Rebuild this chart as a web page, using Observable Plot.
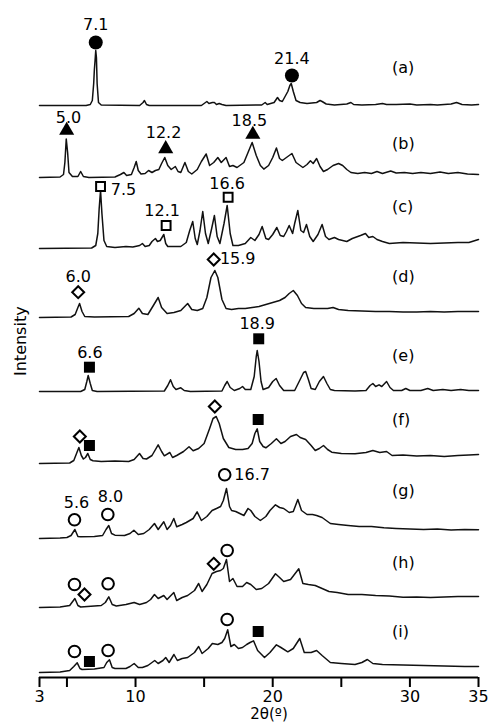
<!DOCTYPE html>
<html>
<head>
<meta charset="utf-8">
<script src="https://cdn.jsdelivr.net/npm/d3@7"></script>
<script src="https://cdn.jsdelivr.net/npm/@observablehq/plot@0.6"></script>
<style>
  html, body { margin: 0; padding: 0; background: #fff; }
  #chart { width: 489px; height: 725px; }
</style>
</head>
<body>
<div id="chart"></div>
<script>
// ---------- DATA (2θ in degrees, intensity in arbitrary units) ----------
const traceNames = ["a","b","c","d","e","f","g","h","i"];
const traceOffsets = [572, 500, 429, 360, 286, 214, 139, 69, 5];

const traceA = [[3,0],[6.4,0],[6.7,1],[6.85,5],[6.95,22],[7.0,36],[7.05,45],[7.1,55],[7.15,48],[7.2,22],[7.3,3],[7.5,0.5],[10.3,0],[10.55,3],[10.65,5],[10.8,1],[11,0],[14.8,0],[15.1,3],[15.2,4],[15.35,2],[15.6,3],[15.75,3],[15.9,1],[16.1,2],[16.3,1],[16.6,0],[19.2,0.5],[19.45,3],[19.6,1],[20.1,3],[20.35,8],[20.5,5],[20.7,4],[20.9,9],[21.1,14],[21.25,20],[21.35,22],[21.5,14],[21.7,5],[22,3],[22.5,2],[23.2,3],[23.45,5],[23.6,4],[23.9,1.5],[24.5,0.5],[25.4,1.5],[25.7,3],[25.9,1],[26.5,0.5],[27.5,1],[28.0,2],[28.3,1],[29,1],[30,1.5],[30.5,0.5],[31.5,1],[32,0.5],[33,1.5],[33.4,3],[33.8,1],[34.5,0.5],[35,1]];

const traceB = [[3,0],[4.5,0.5],[4.75,3],[4.85,15],[4.95,38.5],[5.05,25],[5.15,5],[5.4,1],[5.8,1],[6.0,6],[6.2,1],[6.6,0],[8.5,0.5],[8.9,3],[9.15,5],[9.35,2],[9.7,3],[9.9,10],[10.05,16],[10.2,7],[10.4,3.5],[10.7,4],[10.95,7],[11.2,5],[11.45,7],[11.7,8],[11.9,14],[12.13,20],[12.35,12],[12.6,8],[12.9,11],[13.1,6],[13.3,5],[13.6,15],[13.85,6],[14.1,3.5],[14.5,8],[14.8,16],[15.15,23.5],[15.4,12],[15.7,15],[16.0,20],[16.25,15],[16.6,20],[16.85,11],[17.1,12],[17.4,10],[17.9,15],[18.2,25],[18.5,35],[18.8,22],[19.1,12],[19.35,8.4],[19.7,12],[20.0,20],[20.27,29.6],[20.5,19],[20.7,17],[21.0,20],[21.4,24],[21.7,15],[22.0,12],[22.2,10],[22.5,13],[22.75,16.7],[22.95,14],[23.2,19],[23.45,11],[23.7,6],[24.0,8],[24.4,12],[24.8,14],[25.1,12],[25.4,8],[25.7,5],[26.2,4],[26.7,5],[27.2,4],[27.6,6],[28.0,4],[28.6,6.5],[29.0,4.5],[29.6,5],[30.2,4],[30.8,5],[31.5,4],[32.2,5.5],[32.8,4],[33.5,5],[34.2,3.5],[35,3]];

const traceC = [[3,0],[6.8,0.5],[7.1,3],[7.25,15],[7.35,40],[7.45,58],[7.55,35],[7.7,8],[7.9,2],[8.5,1],[9.3,2],[9.8,1.5],[10.3,3],[10.5,5],[10.7,2],[11.0,3],[11.2,7],[11.45,10],[11.6,7],[11.8,8],[12.06,14],[12.2,5],[12.35,2],[13.3,2],[13.7,6],[13.95,18],[14.17,27],[14.35,10],[14.5,4],[14.7,18],[14.9,37],[15.1,15],[15.3,5],[15.55,20],[15.75,33],[15.95,12],[16.15,5],[16.45,25],[16.68,43],[16.9,15],[17.1,3],[17.5,3],[18.0,5],[18.4,11],[18.7,8],[19.0,14],[19.23,22],[19.5,10],[19.7,9],[20.0,14],[20.3,21],[20.55,13],[20.8,12],[21.0,17],[21.2,23],[21.45,15],[21.6,25],[21.83,38],[22.05,18],[22.25,16],[22.46,24],[22.7,12],[22.95,7],[23.3,14],[23.6,24],[23.85,12],[24.1,9],[24.5,11],[24.8,9],[25.4,7],[25.8,10],[26.4,13],[26.76,15],[27.0,11],[27.3,12],[27.6,9],[28.0,7],[28.5,5],[29.5,6],[30.5,5.5],[31.5,5],[32.5,5.5],[33.5,6],[34.3,6],[35,9]];

const traceD = [[3,0],[5.3,0.5],[5.6,3],[5.8,10],[5.92,14],[6.1,6],[6.3,1],[7,0.5],[9.5,1],[9.9,4],[10.24,9.3],[10.5,4],[10.9,3],[11.3,12],[11.65,20],[11.9,10],[12.3,4],[12.8,5],[13.3,7],[13.8,14],[14.1,8],[14.5,7],[14.9,9],[15.2,20],[15.5,40],[15.78,47],[16.0,40],[16.3,18],[16.6,9],[17.0,8],[17.5,9],[18.0,9],[18.5,10],[19.0,11],[19.5,13],[20.0,15],[20.5,17],[20.9,20],[21.2,24],[21.5,27],[21.8,22],[22.1,14],[22.4,10],[23.0,9],[23.5,9],[24.0,9],[24.4,10],[24.8,8],[25.5,7],[26.5,6.5],[27.5,6],[28.5,6],[29.5,5.5],[30.5,5.5],[31.5,6],[32.5,5.5],[33.5,6],[35,6]];

const traceE = [[3,0],[6.0,0],[6.3,2],[6.45,10],[6.55,16],[6.7,8],[6.85,1],[7.2,0],[12.1,0.5],[12.35,6],[12.55,11.7],[12.75,5],[12.95,2],[13.3,3.7],[13.55,1],[14,0],[16.3,0.5],[16.5,6],[16.68,10],[16.9,4],[17.2,1],[17.6,3],[17.8,5],[18.0,2],[18.4,2],[18.65,15],[18.8,35],[18.87,41],[19.0,30],[19.15,10],[19.3,2],[19.7,4],[20.0,10],[20.25,13],[20.5,6],[20.8,1],[21.6,1],[22.0,12],[22.25,19],[22.4,20],[22.6,12],[22.8,3],[23.1,2],[23.4,10],[23.7,15],[23.95,8],[24.2,2],[24.5,1],[26.0,0.5],[26.8,1],[27.1,6],[27.3,8],[27.5,5],[27.75,6.7],[27.95,5],[28.3,10],[28.55,4],[28.8,1],[29.4,1],[29.7,3],[30.0,1],[30.8,1],[31.3,3],[31.7,1],[32.4,2],[33.0,1],[33.7,2],[34.3,1],[35,1]];

const traceF = [[3,0],[5.2,0.5],[5.5,3],[5.7,10],[5.87,16],[6.05,8],[6.2,4.5],[6.35,6],[6.52,10],[6.7,4],[6.9,2.7],[7.5,2],[8.5,2.5],[9.5,2],[9.9,4],[10.29,10],[10.55,5],[10.8,4.5],[11.2,8],[11.65,18.7],[11.9,12],[12.1,7.7],[12.5,11],[12.7,6],[13.0,8],[13.5,12],[13.9,16.7],[14.2,12.7],[14.6,15],[15.0,20],[15.4,35],[15.65,45],[15.88,47],[16.1,40],[16.4,25],[16.8,16],[17.3,14],[17.8,14],[18.2,15],[18.5,20],[18.7,30],[18.87,34.7],[19.05,22],[19.3,17],[19.5,15.7],[19.9,20],[20.27,24.7],[20.6,20],[20.9,22],[21.3,27],[21.73,29],[22.0,26],[22.4,24],[22.8,18],[23.1,13],[23.4,15],[23.7,18],[24.0,14],[24.3,11.3],[25.0,10],[26.0,9.7],[26.8,11],[27.3,13],[27.8,11],[28.3,12],[28.7,8],[29.5,8.5],[30.5,7.5],[31.5,8],[32.5,7],[33.5,8],[34.3,8.5],[35,9]];

const traceG = [[3,0],[4.5,0.5],[5.0,1],[5.3,3],[5.58,9],[5.8,2],[6.0,1.7],[7.0,2],[7.6,3],[7.85,9],[8.05,13],[8.25,5],[8.5,3.3],[9.2,3],[9.6,5],[9.88,8.3],[10.2,4],[10.6,5],[11.0,9],[11.38,15],[11.65,9],[12.06,16.7],[12.3,9],[12.55,13],[12.79,20],[13.0,11.7],[13.4,14],[13.7,16],[14.2,20],[14.49,26.7],[14.8,18],[15.2,22],[15.58,28],[15.9,30],[16.2,32],[16.4,38],[16.63,50],[16.85,32],[17.0,28],[17.3,27],[17.6,25],[17.9,23],[18.2,30],[18.4,28],[18.7,22],[19.1,18],[19.5,22],[19.8,28],[20.2,33.7],[20.5,31],[20.8,30],[21.2,26],[21.5,27],[21.83,39],[22.1,28],[22.5,24],[22.9,24],[23.2,23],[23.6,21],[24.2,15],[24.8,14],[25.5,13],[26.3,12],[27.2,12],[28.1,10.7],[29.0,10],[30.0,9.5],[31.0,9],[32.0,9.5],[33.0,8.5],[34.0,9],[35,8.7]];

const traceH = [[3,1],[4.5,1.5],[5.2,3],[5.58,10],[5.8,3],[6.0,1.5],[6.5,2],[7.5,3],[7.8,6],[8.05,11.7],[8.3,4],[8.6,2.5],[9.3,4],[9.9,6],[10.3,4],[10.8,6],[11.1,9],[11.38,14],[11.65,10],[12.06,13],[12.3,9],[12.79,16],[13.0,8],[13.4,11],[13.8,13],[14.3,18],[14.6,25],[14.85,17],[15.2,24],[15.58,35],[15.9,37],[16.2,38],[16.4,40],[16.63,49],[16.85,27],[17.1,30],[17.4,22],[17.8,22],[18.1,26],[18.4,24],[18.8,19],[19.2,20],[19.7,25],[20.2,34.7],[20.5,31],[20.8,27],[21.3,29],[21.9,39.7],[22.2,25],[22.6,24],[23.1,23],[23.6,20],[24.1,17],[24.7,16],[25.5,14],[26.5,14],[27.5,13],[28.5,12.5],[29.5,11.3],[30.5,11.5],[31.5,11],[32.5,11.5],[33.5,12],[35,12]];

const traceI = [[3,0],[4.5,0.5],[5.2,2],[5.5,6],[5.75,9.7],[5.95,4],[6.1,3],[7.0,3.5],[7.7,5],[7.9,10],[8.1,12.7],[8.3,5],[8.5,4],[9.3,4],[9.6,6],[9.9,9],[10.2,5],[10.5,5],[10.9,7],[11.4,12],[11.65,9],[12.0,12],[12.2,15],[12.45,10],[12.8,18],[13.05,12],[13.4,14],[13.8,15],[14.3,20],[14.6,26],[14.85,19],[15.3,24],[15.6,29],[16.0,28],[16.3,30],[16.5,34],[16.72,42.7],[16.95,26],[17.2,28],[17.5,24],[17.8,25],[18.1,28],[18.35,30],[18.6,31.7],[18.9,22],[19.4,15],[19.8,20],[20.27,27.7],[20.6,25],[21.1,20.7],[21.5,24],[21.97,34],[22.3,20],[22.8,20],[23.2,22],[23.6,17],[24.2,10],[25.0,9],[26.0,8],[26.5,10],[26.9,13],[27.3,9],[28.0,8],[29.5,7.5],[31.0,7],[32.5,6.5],[34.0,6],[35,6]];

const traces = [traceA, traceB, traceC, traceD, traceE, traceF, traceG, traceH, traceI];

// peak markers: [trace, 2θ, height above trace, kind]
const markers = [
  ["a", 7.1, 63, "solidCircle"], ["a", 21.4, 30, "solidCircle"],
  ["b", 4.98, 47, "triangle"], ["b", 12.2, 28.7, "triangle"], ["b", 18.55, 43, "triangle"],
  ["c", 7.45, 62, "openSquare"], ["c", 12.23, 23, "openSquare"], ["c", 16.75, 51.3, "openSquare"],
  ["d", 5.82, 25.3, "openDiamond"], ["d", 15.7, 58, "openDiamond"],
  ["e", 6.64, 24.3, "solidSquare"], ["e", 18.98, 52.7, "solidSquare"],
  ["f", 5.94, 27, "openDiamond"], ["f", 6.64, 18, "solidSquare"], ["f", 15.78, 57, "openDiamond"], ["f", 18.94, 44, "solidSquare"],
  ["g", 5.55, 18.7, "openCircle"], ["g", 7.98, 24, "openCircle"], ["g", 16.5, 63.7, "openCircle"],
  ["h", 5.55, 24, "openCircle"], ["h", 6.28, 14, "openDiamond"], ["h", 8.0, 24.7, "openCircle"], ["h", 15.7, 44.7, "openDiamond"], ["h", 16.68, 58, "openCircle"],
  ["i", 5.55, 21, "openCircle"], ["i", 6.64, 11, "solidSquare"], ["i", 8.0, 22, "openCircle"], ["i", 16.68, 53, "openCircle"], ["i", 18.94, 41, "solidSquare"]
];

// peak value labels: [trace, 2θ, height, text, anchor]
const peakLabels = [
  ["a", 7.1, 81, "7.1", "middle"], ["a", 21.4, 47, "21.4", "middle"],
  ["b", 5.11, 60, "5.0", "middle"], ["b", 12.04, 44.3, "12.2", "middle"], ["b", 18.3, 57, "18.5", "middle"],
  ["c", 8.2, 58.7, "7.5", "start"], ["c", 11.94, 38, "12.1", "middle"], ["c", 16.68, 64.7, "16.6", "middle"],
  ["d", 5.82, 40.3, "6.0", "middle"], ["d", 16.15, 58.7, "15.9", "start"],
  ["e", 6.67, 38.3, "6.6", "middle"], ["e", 18.87, 67.7, "18.9", "middle"],
  ["g", 5.7, 35.7, "5.6", "middle"], ["g", 8.17, 41.3, "8.0", "middle"], ["g", 17.2, 63.7, "16.7", "start"]
];

// sample labels: [trace, height]
const sampleLabelX = 28.7;
const sampleLabels = [["a",38],["b",34],["c",41.3],["d",41],["e",36],["f",43.7],["g",48],["h",45.3],["i",41]];

const xTicks = [3, 5, 10, 15, 20, 25, 30, 35];
const xTickLabels = [3, 10, 20, 30, 35];

// ---------- BUILD ----------
const offsetOf = Object.fromEntries(traceNames.map((n, i) => [n, traceOffsets[i]]));
const lineData = traces.flatMap((t, i) => t.map(([x, h]) => ({trace: traceNames[i], x, y: traceOffsets[i] + h})));
const markerData = markers.map(([trace, x, h, kind]) => ({trace, x, y: offsetOf[trace] + h, kind}));
const peakLabelData = peakLabels.map(([trace, x, h, text, anchor]) => ({x, y: offsetOf[trace] + h, text, anchor}));
const sampleLabelData = sampleLabels.map(([trace, h]) => ({x: sampleLabelX, y: offsetOf[trace] + h, text: `(${trace})`}));

const font = "'DejaVu Sans', Verdana, sans-serif";
const fs = 16;
const kindStyle = {
  solidCircle: {symbol: "circle", r: 7, fill: "#000", stroke: "none"},
  triangle: {symbol: "triangle", r: 5.6, fill: "#000", stroke: "none"},
  openSquare: {symbol: "square", r: 5, fill: "#fff", stroke: "#000", strokeWidth: 2},
  openDiamond: {symbol: "diamond2", r: 5.4, fill: "#fff", stroke: "#000", strokeWidth: 2},
  solidSquare: {symbol: "square", r: 6.2, fill: "#000", stroke: "none"},
  openCircle: {symbol: "circle", r: 5.8, fill: "#fff", stroke: "#000", strokeWidth: 2}
};

const chart = Plot.plot({
  width: 489,
  height: 725,
  marginLeft: 39,
  marginRight: 11,
  marginTop: 0,
  marginBottom: 48,
  style: {fontFamily: font, fontSize: fs + "px", background: "#fff", color: "#000"},
  x: {domain: [3, 35]},
  y: {domain: [0, 677], axis: null},
  marks: [
    Plot.line(lineData, {x: "x", y: "y", z: "trace", stroke: "#111", strokeWidth: 1.5, strokeLinejoin: "round"}),
    ...Object.entries(kindStyle).map(([kind, s]) =>
      Plot.dot(markerData.filter(d => d.kind === kind), {x: "x", y: "y", ...s})
    ),
    Plot.text(peakLabelData.filter(d => d.anchor === "middle"), {x: "x", y: "y", text: "text", fontSize: fs, textAnchor: "middle", fill: "#000"}),
    Plot.text(peakLabelData.filter(d => d.anchor === "start"), {x: "x", y: "y", text: "text", fontSize: fs, textAnchor: "start", fill: "#000"}),
    Plot.text(sampleLabelData, {x: "x", y: "y", text: "text", fontSize: fs, textAnchor: "start", fill: "#000"}),
    Plot.ruleY([0], {stroke: "#000", strokeWidth: 2}),
    Plot.axisX({
      ticks: xTicks,
      tickFormat: d => xTickLabels.includes(d) ? String(d) : "",
      tickSize: 10,
      tickPadding: 3,
      strokeWidth: 2,
      fontSize: 16,
      label: null
    }),
    Plot.text(["2θ(º)"], {frameAnchor: "bottom", dx: 10, dy: 41, fontSize: 15, fill: "#000"}),
    Plot.text(["Intensity"], {frameAnchor: "left", rotate: -90, dx: -19, dy: 37, fontSize: fs, fill: "#000"})
  ]
});

document.getElementById("chart").appendChild(chart);
</script>
</body>
</html>
